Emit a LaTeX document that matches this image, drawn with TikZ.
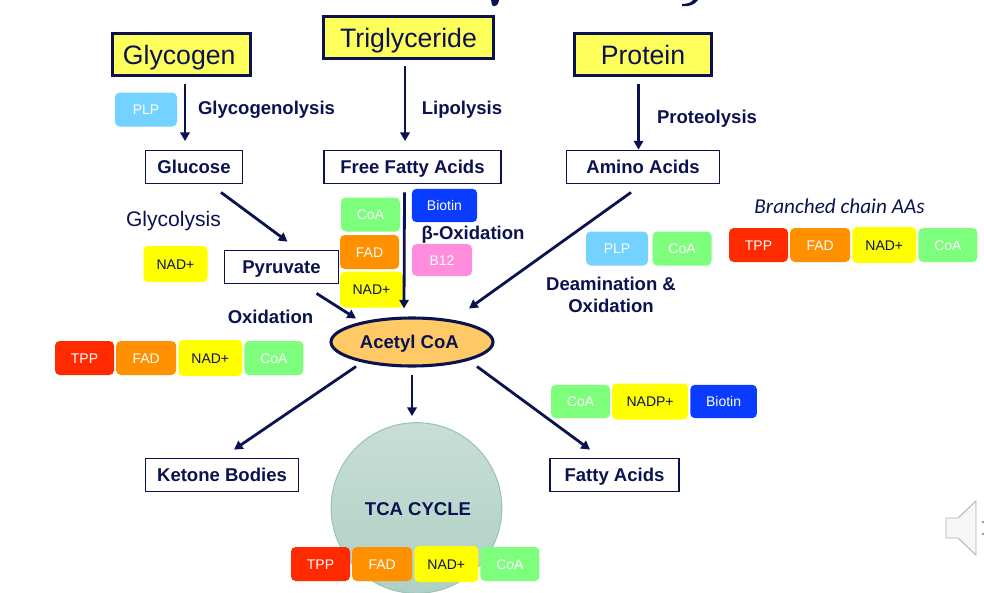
\documentclass[tikz,border=0pt]{standalone}
\usepackage{fontspec}
\setmainfont{Liberation Sans}
\newfontfamily\notefont{Carlito}
\usetikzlibrary{arrows.meta,positioning,shapes.geometric}
\definecolor{navy}{HTML}{0B1250}
\definecolor{srcyellow}{HTML}{FFFF5C}
\definecolor{tppred}{HTML}{FF2A00}
\definecolor{fadorange}{HTML}{FF9100}
\definecolor{nadyellow}{HTML}{FFFF00}
\definecolor{coagreen}{HTML}{7DFF7D}
\definecolor{plpblue}{HTML}{73D2FF}
\definecolor{biotinblue}{HTML}{0A3CFF}
\definecolor{btwelvepink}{HTML}{FF8CDC}
\definecolor{acetylfill}{HTML}{FFC966}
\definecolor{tcatop}{HTML}{C8DED6}
\definecolor{tcabottom}{HTML}{AFD0C5}
\definecolor{tcaline}{HTML}{9DC3B7}

\begin{document}
\begin{tikzpicture}[
  x=0.75pt, y=-0.75pt,
  node distance=1.2pt,
  source/.style={text height=14.4pt, text depth=0pt, draw=navy, fill=srcyellow, line width=2.3pt, text=navy, font=\fontsize{20}{24}\selectfont, minimum height=31.5pt, inner sep=0pt},
  box/.style={text height=10pt, text depth=0pt, draw=navy, line width=1.1pt, text=navy, font=\fontsize{13.9}{16}\selectfont\bfseries, minimum height=25pt, inner sep=0pt},
  lbl/.style={text height=10pt, text depth=0pt, text=navy, font=\fontsize{13.9}{16.5}\selectfont\bfseries, inner sep=0pt},
  chip/.style={text height=7.6pt, text depth=0pt, rounded corners=3.5pt, font=\fontsize{10.5}{12}\selectfont, text=white, minimum height=25.5pt, minimum width=44.25pt, inner sep=0pt},
  tppchip/.style={chip, fill=tppred},
  fadchip/.style={chip, fill=fadorange, minimum width=45pt},
  nadchip/.style={chip, fill=nadyellow, text=navy, minimum width=48pt, minimum height=27pt},
  coachip/.style={chip, fill=coagreen},
  plpchip/.style={chip, fill=plpblue, minimum width=46.5pt},
  biotinchip/.style={chip, fill=biotinblue, minimum width=49pt, minimum height=25pt},
  arrow/.style={-{Triangle[length=6.5pt,width=7pt]}, draw=navy, line width=2.1pt}
]
\useasboundingbox (0,0) rectangle (984,592);
\fill[white] (0,0) rectangle (984,592);

% cut-off title
\fill[navy] (491,0) -- (499,0) .. controls (499,5) and (494,8) .. (492,5) -- cycle;
\fill[navy] (682,4) .. controls (688,4) and (692,2) .. (693,0) -- (698,0) .. controls (695,5) and (688,7) .. (682,6) -- cycle;

% sources
\node[source, minimum width=103.5pt] (glycogen) at (181.5,54.5) {Glycogen\kern3.5pt};
\node[source, minimum width=127.5pt] (trig) at (408.5,37.5) {Triglyceride};
\node[source, minimum width=103pt] (protein) at (643,54.5) {Protein};

% intermediates
\node[box, minimum width=73pt] (glucose) at (194,167) {Glucose};
\node[box, minimum width=133pt] (ffa) at (412.5,167) {Free Fatty Acids};
\node[box, minimum width=115pt] (amino) at (643,167) {Amino Acids};
\node[box, minimum width=85.5pt] (pyruvate) at (281.5,267) {Pyruvate};
\node[text height=10pt, text depth=0pt, draw=navy, line width=2.3pt, fill=acetylfill, ellipse, minimum width=121.5pt, minimum height=36pt, inner sep=0pt, text=navy, font=\fontsize{13.9}{16}\selectfont\bfseries] (acetyl) at (412,342) {Acetyl CoA\kern4pt};
\node[box, minimum width=115pt] (ketone) at (222,475) {Ketone Bodies};
\node[box, minimum width=97pt] (fatty) at (614.5,475) {Fatty Acids};
\node[circle, draw=tcaline, line width=0.8pt, top color=tcatop, bottom color=tcabottom, minimum size=128pt, inner sep=0pt] (tca) at (416.5,508) {};
\node[lbl] (tcalbl) at (418,509) {TCA CYCLE};

% labels
\node[lbl] (glycogenolysis) at (266.5,108) {Glycogenolysis};
\node[lbl] (lipolysis) at (462,108) {Lipolysis};
\node[lbl] (proteolysis) at (707,116.5) {Proteolysis};
\node[lbl, text height=11.3pt, font=\fontsize{15.8}{18}\selectfont] (glycolysis) at (173.5,219) {Glycolysis};
\node[lbl] (betaox) at (473,233) {β-Oxidation};
\node[lbl] (oxidation) at (270.5,317) {Oxidation};
\node[text=navy, inner sep=0pt, align=center, font=\fontsize{13.9}{16.5}\selectfont\bfseries] (deamination) at (611,295) {Deamination \&\\Oxidation};
\node[text=navy, inner sep=0pt, font=\notefont\fontsize{15.9}{18}\selectfont\itshape] (branched) at (839.5,206) {Branched chain AAs};

% cofactors
\node[plpchip] (plpa) at (146,109.5) {PLP};
\node[coachip] (coaa) at (370.5,214.5) {CoA};
\node[fadchip, minimum width=44.25pt] (fada) at (369.5,252) {FAD};
\node[nadchip, minimum width=47pt] (nada) at (371.5,289.5) {NAD+};
\node[biotinchip] (biotina) at (444.5,205.5) {Biotin};
\node[chip, fill=btwelvepink, minimum width=45pt, minimum height=24pt] (btwelve) at (442,260) {B12};
\node[nadchip] (nadb) at (175.5,264) {NAD+};
\node[plpchip] (plpb) at (617,248.5) {PLP};
\node[coachip, right=3pt of plpb] (coab) {CoA};

\node[tppchip] (tppc) at (758.5,245) {TPP};
\node[fadchip, right=of tppc] (fadc) {FAD};
\node[nadchip, right=of fadc] (nadc) {NAD+};
\node[coachip, right=of nadc] (coac) {CoA};

\node[tppchip] (tppd) at (84.5,358) {TPP};
\node[fadchip, right=of tppd] (fadd) {FAD};
\node[nadchip, right=of fadd] (nadd) {NAD+};
\node[coachip, right=of nadd] (coad) {CoA};

\node[coachip, minimum height=25pt] (coae) at (580.5,401.5) {CoA};
\node[nadchip, right=of coae, minimum width=57pt] (nadpe) {NADP+};
\node[biotinchip, right=of nadpe, minimum width=50pt] (biotine) {Biotin};

\node[tppchip] (tppf) at (320.5,564) {TPP};
\node[fadchip, right=of tppf] (fadf) {FAD};
\node[nadchip, right=of fadf] (nadf) {NAD+};
\node[coachip, right=of nadf] (coaf) {CoA};

% arrows
\draw[arrow] ([shift={(3.5,6.5)}]glycogen.south) -- ([shift={(-9,-8.5)}]glucose.north);
\draw[arrow] ([shift={(-3.5,6)}]trig.south) -- ([shift={(-7.5,-8.5)}]ffa.north);
\draw[arrow] ([shift={(-4.5,6.5)}]protein.south) -- ([shift={(-4.5,0)}]amino.north);
\draw[arrow] ([shift={(27,8)}]glucose.south) -- ([shift={(6,-8)}]pyruvate.north);
\draw[arrow] ([shift={(-8,8)}]ffa.south) -- ([shift={(-8,-8)}]acetyl.north);
\draw[arrow] ([shift={(-12,8)}]amino.south) -- ([shift={(57,-8)}]acetyl.north);
\draw[arrow] ([shift={(35,9)}]pyruvate.south) -- ([shift={(-56,2)}]acetyl.north);
\draw[arrow] ([shift={(-56,-1)}]acetyl.south) -- ([shift={(12,-8)}]ketone.north);
\draw[arrow] ([shift={(0,7)}]acetyl.south) -- ([shift={(-4.5,-6)}]tca.north);
\draw[arrow] ([shift={(65,-1)}]acetyl.south) -- ([shift={(-24.5,-8)}]fatty.north);

% speaker
\draw[black!30, line width=0.7pt, fill=black!3] (946,518) -- (958,518) -- (976,501) -- (976,555) -- (958,538) -- (946,538) -- cycle;
\fill[black!40] (983,522) circle (1.3);
\fill[black!40] (983,534) circle (1.3);
\end{tikzpicture}
\end{document}
